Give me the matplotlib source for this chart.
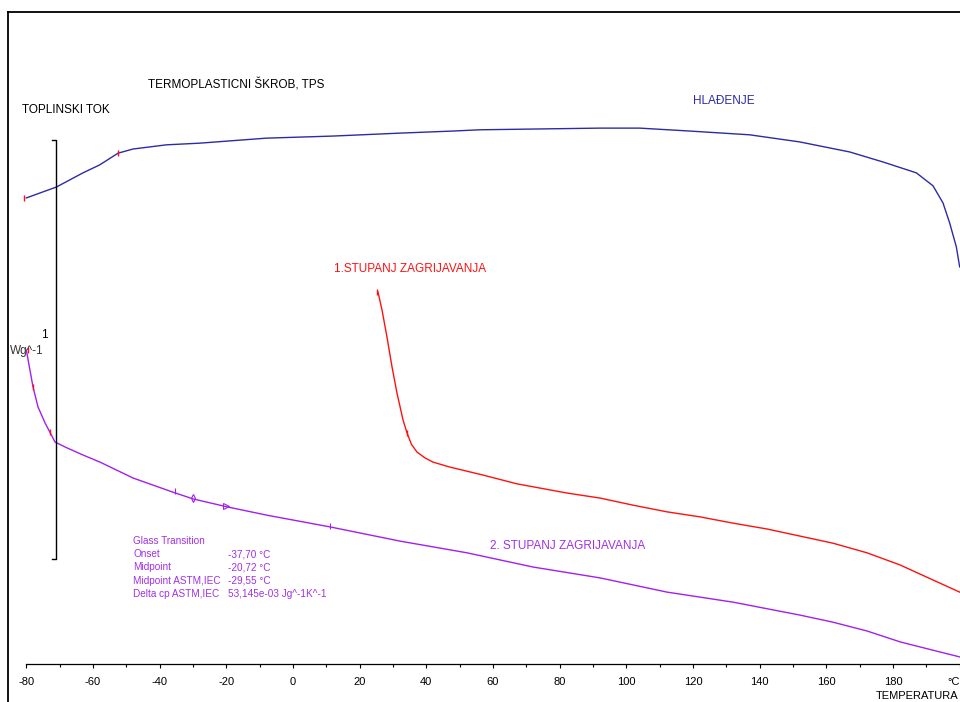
"""
DSC thermogram of thermoplastic starch (TPS): cooling run and two heating runs.
Heat flow in W/g (arbitrary offset, 1 W/g scale bar), temperature in degC.
"""

import numpy as np
import matplotlib
matplotlib.use("Agg")
import matplotlib.pyplot as plt
from matplotlib.lines import Line2D

plt.rcParams["font.family"] = ["Liberation Sans", "DejaVu Sans"]

# ---- data (T in degC, heat flow in W/g, shifted) ----
cool_T = [-80, -71, -63, -58, -52.5, -48, -38, -28, -8, 12, 32, 48, 56,
          92, 104, 119, 137, 152, 167, 177, 187, 192, 195, 197, 199, 200]
cool_hf = [1.115, 1.141, 1.175, 1.194, 1.222, 1.232, 1.242, 1.246, 1.258,
           1.263, 1.270, 1.275, 1.278, 1.282, 1.282, 1.275, 1.266, 1.249,
           1.225, 1.201, 1.175, 1.144, 1.103, 1.055, 0.998, 0.950]

heat1_T = [25.5, 26.7, 28.2, 29.7, 31.2, 33, 34.2, 35.5, 37.2, 39.6, 42,
           47.1, 57, 67.2, 82.2, 92.1, 102, 112.2, 122.1, 132, 142.2, 152.1,
           162, 172.2, 182.1, 192, 200]
heat1_hf = [0.890, 0.847, 0.782, 0.711, 0.648, 0.584, 0.553, 0.526, 0.507,
            0.493, 0.483, 0.471, 0.452, 0.431, 0.409, 0.397, 0.380, 0.364,
            0.352, 0.337, 0.323, 0.306, 0.289, 0.266, 0.237, 0.201, 0.172]

heat2_T = [-80, -78, -76.5, -74.4, -71.4, -67.8, -63, -57.9, -48, -36, -30,
           -19.8, -7.8, 11.1, 32.1, 52.2, 72, 92.1, 112.2, 132, 152.1, 162,
           172.2, 182.1, 192, 200]
heat2_hf = [0.751, 0.663, 0.615, 0.577, 0.531, 0.517, 0.500, 0.483, 0.445,
            0.411, 0.395, 0.376, 0.356, 0.328, 0.294, 0.266, 0.232, 0.206,
            0.172, 0.148, 0.117, 0.100, 0.079, 0.053, 0.033, 0.017]

# evaluation limit marks (red) and Tg marks (purple)
limit_T = [-80.7, -52.5, 25.2, 34.2, -79.5, -78, -72.9]
limit_hf = [1.115, 1.222, 0.890, 0.553, 0.751, 0.663, 0.555]
tg_T = [-35.5, -30.0, -20.0, 11.0]
tg_hf = [0.414, 0.397, 0.377, 0.330]
tg_marks = ["|", "d", ">", "|"]

tick_vals = list(range(-80, 201, 20))
tick_labels = [str(t) for t in tick_vals[:-1]] + ["°C"]

tg_names = ["Onset", "Midpoint", "Midpoint ASTM,IEC", "Delta cp ASTM,IEC"]
tg_values = ["-37,70 °C", "-20,72 °C", "-29,55 °C", "53,145e-03 Jg^-1K^-1"]

BLUE = "#2b2ba6"
RED = "#ff1010"
PURPLE = "#a020f0"
PURPLE_TXT = "#a030e8"

# pixel mapping of the reference: x = 293 + 3.333*T, y = 664 - 418*hf
fig = plt.figure(figsize=(9.6, 7.02), dpi=100)
ax = fig.add_axes([0, 0, 1, 1])
ax.set_xlim(-87.9, 200.1)
ax.set_ylim(-0.0909, 1.5885)

for s in ("left", "right", "top"):
    ax.spines[s].set_visible(False)
ax.spines["bottom"].set_position(("data", 0))
ax.spines["bottom"].set_bounds(-80, 200)
ax.spines["bottom"].set_linewidth(0.9)
ax.set_xticks(tick_vals)
ax.set_xticklabels(tick_labels, fontsize=8)
ax.set_xticks(range(-70, 200, 20), minor=True)
ax.tick_params(axis="x", which="major", direction="out", length=3, width=0.8,
               pad=6, colors="black")
ax.tick_params(axis="x", which="minor", direction="out", length=2, width=0.8)
ax.get_xticklabels()[-1].set_horizontalalignment("right")  # keep unit inside
ax.set_yticks([])
ax.patch.set_visible(False)

# outer frame (left and top edges)
fig.add_artist(Line2D([8 / 960, 8 / 960], [0, 1 - 12 / 702], color="black", lw=1.3))
fig.add_artist(Line2D([8 / 960, 1], [1 - 12 / 702, 1 - 12 / 702], color="black", lw=1.3))

# curves
ax.plot(cool_T, cool_hf, color=BLUE, lw=1.0)
ax.plot(heat1_T, heat1_hf, color=RED, lw=1.0)
ax.plot(heat2_T, heat2_hf, color=PURPLE, lw=1.0)

ax.plot(limit_T, limit_hf, ls="none", marker="|", ms=5, mew=1.0, color=RED)
for t, h, m in zip(tg_T, tg_hf, tg_marks):
    ax.plot(t, h, ls="none", marker=m, ms=4, mew=0.8, mfc="none", color=PURPLE)

# 1 W/g scale bar
ax.plot([-72.2, -71.1, -71.1, -72.2], [1.2536, 1.2536, 0.2512, 0.2512],
        color="black", lw=1.0)
ax.text(-74.7, 0.787, "1", fontsize=8.5, ha="center", va="center")
ax.text(-84.9, 0.749, "Wg^-1", fontsize=8.5, ha="left", va="center", color="#333333")

# texts
ax.text(-43.5, 1.385, "TERMOPLASTICNI ŠKROB, TPS", fontsize=8.5, va="center")
ax.text(-81.3, 1.325, "TOPLINSKI TOK", fontsize=8.5, va="center")
ax.text(120, 1.347, "HLAĐENJE", fontsize=8.5, va="center", color=BLUE)
ax.text(12.3, 0.945, "1.STUPANJ ZAGRIJAVANJA", fontsize=8.5, va="center", color=RED)
ax.text(59.1, 0.282, "2. STUPANJ ZAGRIJAVANJA", fontsize=8.5, va="center",
        color=PURPLE_TXT)
ax.text(199.5, -0.0766, "TEMPERATURA", fontsize=8, ha="right", va="center")

ax.text(-48, 0.294, "Glass Transition", fontsize=7.2, va="center", color=PURPLE_TXT)
for i, (name, val) in enumerate(zip(tg_names, tg_values)):
    y = 0.263 - i * 0.0318
    ax.text(-48, y, name, fontsize=7.2, va="center", color=PURPLE_TXT)
    ax.text(-19.5, y, val, fontsize=7.2, va="center", color=PURPLE_TXT)

fig.savefig("out.png", dpi=100)
